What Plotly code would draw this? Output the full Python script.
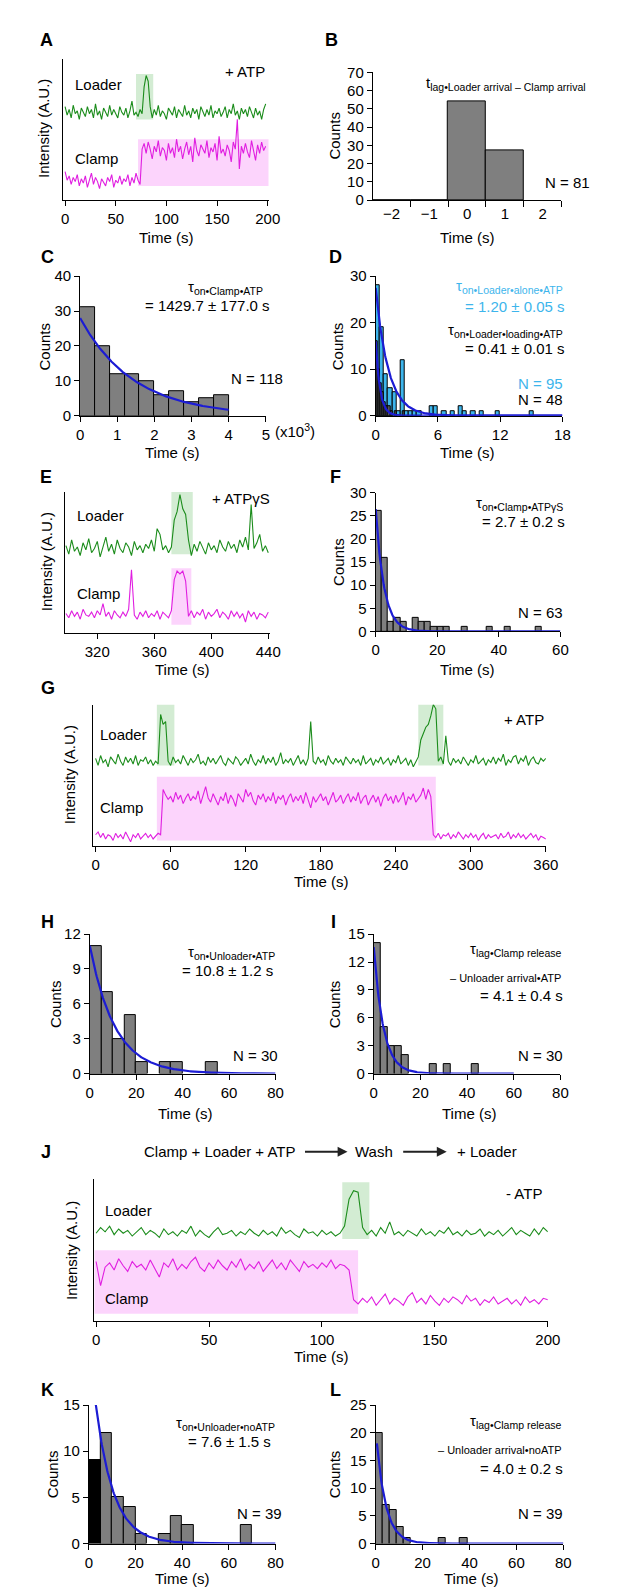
import math
import plotly.graph_objects as go

W, H = 617, 1593
FONT = "Liberation Sans, Arial, Helvetica, sans-serif"
GREEN = "#1b8c1b"
MAGENTA = "#e01ee0"
GREEN_BOX = "rgba(70,175,70,0.24)"
PINK_BOX = "rgba(245,120,245,0.32)"
GRAY = "#7f7f7f"
DARK = "#555555"
BLUE_FIT = "#1c1cd4"
LIGHT_BLUE = "#3db5ec"

# ---------------- Panel A (traces, +ATP) ----------------
A_time = list(range(0, 200, 2))
A_loader = [66, 60, 64, 58, 67, 61, 63, 57, 65, 62,
            59, 66, 61, 64, 58, 68, 60, 63, 57, 65,
            62, 59, 67, 60, 64, 61, 58, 66, 62, 60,
            65, 58, 63, 70, 60, 62, 59, 64, 61, 80,
            88, 84, 66, 58, 64, 60, 67, 59, 63, 61,
            57, 65, 62, 60, 66, 58, 64, 61, 59, 67,
            60, 63, 58, 65, 61, 64, 57, 66, 62, 59,
            64, 60, 67, 58, 63, 61, 65, 59, 62, 66,
            58, 64, 61, 68, 60, 63, 57, 65, 61, 64,
            59, 66, 62, 58, 65, 60, 63, 57, 64, 68]
A_clamp = [20, 14, 17, 11, 16, 13, 18, 10, 15, 12,
           17, 9, 14, 19, 11, 16, 13, 8, 15, 12,
           10, 16, 13, 18, 9, 14, 12, 17, 11, 15,
           13, 18, 10, 16, 12, 19, 14, 11, 36, 40,
           33, 41, 36, 29, 38, 34, 42, 31, 37, 35,
           28, 40, 33, 37, 30, 43, 34, 38, 29, 36,
           41, 32, 38, 27, 44, 35, 31, 39, 36, 33,
           42, 30, 37, 34, 40, 28, 45, 33, 36, 31,
           39, 35, 27, 41, 36, 57, 22, 38, 33, 40,
           34, 30, 42, 36, 28, 39, 33, 41, 35, 38]
A_green_box = [70, 87, 57, 89]
A_pink_box = [72, 201, 10, 43]

# ---------------- Panel B (histogram) ----------------
B_left = [-2.5, -1.5, -0.5, 0.5]
B_counts = [0, 0, 54, 27]
B_width = 1.0

# ---------------- Panel C ----------------
C_left = [0.0, 0.4, 0.8, 1.2, 1.6, 2.0, 2.4, 2.8, 3.2, 3.6]
C_counts = [31, 20, 12, 12, 10, 6, 7, 4, 5, 6]
C_width = 0.4
C_fit = [28.0, 1.4297, 0.0, 4.0]   # amplitude, tau (x10^3 s), t start, t end

# ---------------- Panel D ----------------
D_blue_left = [0.0, 0.4, 0.8, 1.2, 1.6, 2.0, 2.4, 2.8, 3.2, 3.6, 4.0, 5.2, 5.6,
               6.4, 7.2, 8.0, 8.4, 9.2, 10.0, 11.6, 14.8]
D_blue_counts = [28, 19, 9, 6, 5, 1, 12, 1, 1, 1, 1, 2, 2, 1, 1, 2, 1, 1, 1, 1, 1]
D_blue_width = 0.4
D_black_left = [0.0, 0.2, 0.4, 0.6, 0.8, 1.0, 1.2, 1.4, 1.8, 2.6]
D_black_counts = [16, 10, 7, 5, 3, 2, 2, 1, 1, 1]
D_black_width = 0.2
D_fit_alone = [27.5, 1.20, 0.0, 18.0]
D_fit_loading = [16.0, 0.41, 0.0, 18.0]

# ---------------- Panel E (traces, +ATPgS) ----------------
E_time = list(range(298, 441, 2))
E_loader = [62, 56, 66, 58, 61, 55, 64, 59, 67, 57,
            60, 65, 54, 62, 68, 58, 63, 56, 66, 60,
            57, 64, 61, 55, 65, 59, 62, 57, 63, 60,
            66, 58, 74, 70, 59, 62, 57, 61, 80, 86,
            98, 88, 84, 66, 55, 63, 58, 65, 60, 56,
            64, 59, 62, 57, 66, 61, 58, 65, 60, 63,
            57, 66, 61, 68, 59, 91, 60, 64, 70, 58,
            62, 57]
E_clamp = [14, 11, 16, 12, 15, 10, 17, 13, 12, 15,
           11, 16, 13, 21, 12, 15, 10, 16, 13, 11,
           15, 12, 17, 45, 13, 10, 15, 12, 16, 11,
           14, 12, 16, 10, 15, 13, 11, 16, 38, 44,
           42, 44, 37, 12, 16, 11, 15, 13, 17, 10,
           15, 12, 14, 17, 11, 15, 13, 10, 16, 12,
           15, 11, 14, 8, 16, 12, 15, 10, 14, 13,
           11, 15]
E_green_box = [372, 387, 56, 100]
E_pink_box = [372, 386, 6, 46]

# ---------------- Panel F ----------------
F_left = [0, 2, 4, 6, 8, 12, 14, 16, 18, 20, 22, 28, 36, 42, 52]
F_counts = [26, 16, 2, 3, 2, 3, 2, 2, 1, 1, 1, 1, 1, 1, 1]
F_width = 2
F_fit = [26.5, 2.7, 0.0, 60.0]

# ---------------- Panel G (traces, +ATP) ----------------
G_time = list(range(0, 361, 2))
G_loader = [62, 57, 64, 59, 61, 56, 63, 60, 58, 65,
            60, 57, 63, 59, 62, 58, 64, 57, 61, 60,
            63, 58, 61, 57, 60, 58, 93, 86, 88, 60,
            57, 63, 59, 61, 58, 64, 60, 57, 62, 59,
            61, 65, 58, 60, 57, 63, 59, 62, 58, 61,
            64, 59, 57, 62, 60, 58, 63, 61, 57, 60,
            62, 58, 65, 60, 57, 61, 59, 64, 58, 62,
            59, 63, 57, 60, 66, 58, 61, 59, 62, 57,
            60, 64, 58, 61, 57, 62, 88, 60, 58, 63,
            59, 61, 57, 64, 60, 58, 62, 59, 61, 57,
            63, 60, 58, 62, 59, 61, 57, 64, 58, 60,
            62, 57, 61, 59, 63, 58, 60, 62, 57, 61,
            59, 64, 58, 60, 62, 57, 61, 56, 59, 63,
            75, 80, 84, 86, 92, 100, 97, 60, 63, 58,
            78, 60, 57, 62, 59, 61, 58, 63, 60, 57,
            61, 59, 64, 58, 60, 62, 57, 61, 59, 63,
            58, 62, 60, 65, 57, 61, 59, 63, 64, 58,
            62, 60, 64, 57, 61, 63, 59, 58, 62, 60,
            62]
G_clamp = [8, 10, 6, 9, 5, 8, 7, 4, 9, 6,
           8, 5, 10, 7, 3, 8, 6, 9, 5, 7,
           9, 6, 8, 5, 7, 9, 8, 40, 36, 33,
           35, 31, 38, 33, 36, 30, 34, 37, 32, 35,
           33, 39, 30, 36, 42, 34, 31, 37, 33, 29,
           35, 32, 38, 30, 36, 33, 28, 37, 34, 31,
           40, 35, 38, 32, 29, 36, 33, 37, 31, 35,
           32, 38, 30, 35, 33, 36, 29, 34, 37, 31,
           35, 32, 36, 30, 38, 33, 27, 35, 31, 34,
           37, 32, 35, 29, 34, 38, 31, 33, 36, 30,
           34, 37, 31, 35, 32, 38, 30, 34, 36, 29,
           33, 36, 31, 35, 28, 34, 37, 32, 35, 30,
           36, 31, 34, 38, 29, 35, 33, 37, 31, 34,
           36, 41, 33, 40, 35, 8, 6, 9, 5, 8,
           7, 9, 5, 8, 6, 10, 7, 5, 8, 6,
           9, 6, 8, 4, 7, 9, 5, 8, 6, 7,
           8, 5, 9, 6, 7, 10, 5, 8, 6, 9,
           6, 8, 5, 7, 9, 6, 8, 4, 7, 6,
           5]
G_green_boxes = [[49, 63, 57, 100], [258, 278, 57, 100]]
G_pink_box = [49, 272, 4, 49]

# ---------------- Panel H ----------------
H_left = [0, 5, 10, 15, 20, 30, 35, 50]
H_counts = [11, 7, 3, 5, 1, 1, 1, 1]
H_width = 5
H_fit = [11.0, 10.8, 0.0, 80.0]

# ---------------- Panel I ----------------
I_left = [0, 3, 6, 9, 12, 24, 30, 42]
I_counts = [14, 5, 3, 3, 2, 1, 1, 1]
I_width = 3
I_fit = [13.6, 4.1, 0.0, 60.0]

# ---------------- Panel J (traces, -ATP) ----------------
J_time = list(range(0, 201, 2))
J_loader = [62, 66, 63, 67, 61, 65, 62, 64, 60, 63,
            66, 61, 64, 62, 59, 65, 61, 63, 60, 64,
            62, 67, 60, 64, 61, 59, 63, 66, 61, 62,
            64, 60, 63, 61, 65, 62, 60, 64, 61, 63,
            60, 66, 62, 64, 61, 59, 65, 62, 63, 60,
            64, 61, 63, 60, 62, 67, 86, 92, 91, 66,
            61, 64, 60, 66, 62, 70, 61, 63, 60, 64,
            62, 60, 65, 61, 63, 60, 64, 62, 66, 61,
            63, 60, 64, 61, 62, 65, 60, 63, 61, 64,
            60, 63, 66, 61, 64, 62, 60, 65, 61, 66,
            63]
J_clamp = [42, 25, 38, 41, 36, 44, 39, 35, 42, 38,
           40, 36, 43, 37, 31, 41, 38, 44, 36, 40,
           37, 42, 45, 38, 35, 41, 37, 43, 39, 36,
           42, 38, 44, 36, 40, 37, 42, 35, 39, 43,
           37, 41, 36, 43, 39, 35, 42, 38, 40, 37,
           41, 38, 43, 37, 40, 39, 36, 15, 12, 16,
           13, 17, 11, 15, 19, 12, 16, 14, 11, 17,
           20, 13, 16, 12, 18, 14, 11, 16, 13, 17,
           15, 12, 18, 14, 16, 11, 15, 13, 17, 12,
           14, 16, 12, 15, 11, 17, 13, 15, 12, 16,
           15]
J_green_box = [109, 121, 58, 98]
J_pink_box = [-0.8, 116, 5, 50]

# ---------------- Panel K ----------------
K_left = [0, 5, 10, 15, 20, 30, 35, 40, 65]
K_counts = [9, 12, 5, 4, 1, 1, 3, 2, 2]
K_width = 5
K_fit = [22.3, 7.6, 3.0, 80.0]

# ---------------- Panel L ----------------
L_left = [0, 3, 6, 9, 12, 27, 36]
L_counts = [20, 7, 6, 3, 1, 1, 1]
L_width = 3
L_fit = [20.5, 4.0, 0.5, 80.0]

# =====================================================
fig = go.Figure()
layout = dict(width=W, height=H, margin=dict(l=0, r=0, t=0, b=0),
              paper_bgcolor="white", plot_bgcolor="white", showlegend=False,
              barmode="overlay", bargap=0,
              font=dict(family=FONT, size=15, color="black"))
annotations = []
shapes = []


def X(px):
    return px / W


def Y(py):
    return 1 - py / H


TICKFONT = dict(family=FONT, size=15, color="black")
LETTER = 18


def make_axes(n, xl, xr, yt, yb, xrange, yrange, xtickvals, ytickvals=None,
              trace_panel=False):
    common = dict(showline=True, linecolor="black", linewidth=1, showgrid=False,
                  zeroline=False, tickfont=TICKFONT, ticks="outside", ticklen=5,
                  tickcolor="black", tickwidth=1, fixedrange=True)
    xa = dict(common, domain=[X(xl), X(xr)], anchor=f"y{n}", range=xrange,
              tickmode="array", tickvals=xtickvals)
    ya = dict(common, domain=[Y(yb), Y(yt)], anchor=f"x{n}", range=yrange)
    if trace_panel:
        ya.update(ticks="", showticklabels=False)
    else:
        ya.update(tickmode="array", tickvals=ytickvals)
    key = "" if n == 1 else str(n)
    layout["xaxis" + key] = xa
    layout["yaxis" + key] = ya
    return "x" + key, "y" + key


def ann(text, px, py, size=15, xanchor="center", color="black", angle=0):
    annotations.append(dict(text=text, x=X(px), y=Y(py), xref="paper", yref="paper",
                            xanchor=xanchor, yanchor="middle", showarrow=False,
                            textangle=angle,
                            font=dict(family=FONT, size=size, color=color)))


def box(xr, yr, b, color):
    shapes.append(dict(type="rect", xref=xr, yref=yr, x0=b[0], x1=b[1], y0=b[2], y1=b[3],
                       fillcolor=color, line=dict(width=0), layer="below"))


def add_trace_line(xr, yr, t, v, color):
    fig.add_trace(go.Scatter(x=t, y=v, mode="lines", line=dict(color=color, width=1.1),
                             xaxis=xr, yaxis=yr, hoverinfo="skip"))


def add_bars(xr, yr, left, counts, width, color=GRAY):
    fig.add_trace(go.Bar(x=left, y=counts, width=width, offset=0, xaxis=xr, yaxis=yr,
                         marker=dict(color=color, line=dict(color="black", width=1)),
                         hoverinfo="skip"))


def add_fit(xr, yr, p, color=BLUE_FIT):
    amp, tau, t0, t1 = p
    n = 300
    ts = [t0 + (t1 - t0) * i / (n - 1) for i in range(n)]
    ys = [amp * math.exp(-t / tau) for t in ts]
    fig.add_trace(go.Scatter(x=ts, y=ys, mode="lines", line=dict(color=color, width=2.2),
                             xaxis=xr, yaxis=yr, hoverinfo="skip"))


# ---- A ----
xa, ya = make_axes(1, 52, 264, 42, 185, [-2.5, 201], [0, 100], [0, 50, 100, 150, 200],
                   trace_panel=True)
box(xa, ya, A_green_box, GREEN_BOX)
box(xa, ya, A_pink_box, PINK_BOX)
add_trace_line(xa, ya, A_time, A_loader, GREEN)
add_trace_line(xa, ya, A_time, A_clamp, MAGENTA)
ann("<b>A</b>", 35, 23, LETTER)
ann("+ ATP", 240, 55)
ann("Loader", 63, 68, xanchor="left")
ann("Clamp", 63, 143, xanchor="left")
ann("Intensity (A.U.)", 33, 113, angle=-90)
ann("Time (s)", 158, 223)

# ---- B ----
xb, yb = make_axes(2, 371, 565, 56, 185, [-2.5, 2.5], [0, 70], [-2, -1, 0, 1, 2],
                   ytickvals=[0, 10, 20, 30, 40, 50, 60, 70])
layout["xaxis2"].update(ticklen=0, ticks="",
                        minor=dict(tickvals=[-1.5, -0.5, 0.5, 1.5, 2.5], ticks="outside",
                                   ticklen=6, tickcolor="black", tickwidth=1))
add_bars(xb, yb, B_left, B_counts, B_width)
ann("<b>B</b>", 329, 23, LETTER)
ann("t<sub>lag•Loader arrival – Clamp arrival</sub>", 508, 67)
ann("N = 81", 571, 167)
ann("Counts", 332, 120, angle=-90)
ann("Time (s)", 468, 223)

# ---- C ----
xc, yc = make_axes(3, 70, 261, 262, 403, [0, 5], [0, 40], [0, 1, 2, 3, 4, 5],
                   ytickvals=[0, 10, 20, 30, 40])
add_bars(xc, yc, C_left, C_counts, C_width)
add_fit(xc, yc, C_fit)
ann("<b>C</b>", 36, 243, LETTER)
ann("τ<sub>on•Clamp•ATP</sub>", 220, 273)
ann("= 1429.7 ± 177.0 s", 201, 292)
ann("N = 118", 252, 365)
ann("(x10<sup>3</sup>)", 268, 418, xanchor="left")
ann("Counts", 33, 333, angle=-90)
ann("Time (s)", 165, 440)

# ---- D ----
xd, yd = make_axes(4, 374, 566, 262, 403, [0, 18], [0, 30], [0, 6, 12, 18],
                   ytickvals=[0, 10, 20, 30])
add_bars(xd, yd, D_blue_left, D_blue_counts, D_blue_width, LIGHT_BLUE)
add_bars(xd, yd, D_black_left, D_black_counts, D_black_width, DARK)
add_fit(xd, yd, D_fit_alone)
add_fit(xd, yd, D_fit_loading)
ann("<b>D</b>", 333, 243, LETTER)
ann("τ<sub>on•Loader•alone•ATP</sub>", 569, 272, xanchor="right", color=LIGHT_BLUE)
ann("= 1.20 ± 0.05 s", 571, 293, xanchor="right", color=LIGHT_BLUE)
ann("τ<sub>on•Loader•loading•ATP</sub>", 569, 317, xanchor="right")
ann("= 0.41 ± 0.01 s", 571, 335, xanchor="right")
ann("N = 95", 569, 370, xanchor="right", color=LIGHT_BLUE)
ann("N = 48", 569, 387, xanchor="right")
ann("Counts", 335, 333, angle=-90)
ann("Time (s)", 468, 440)

# ---- E ----
xe, ye = make_axes(5, 54, 265, 480, 623, [297, 441], [0, 100], [320, 360, 400, 440],
                   trace_panel=True)
box(xe, ye, E_green_box, GREEN_BOX)
box(xe, ye, E_pink_box, PINK_BOX)
add_trace_line(xe, ye, E_time, E_loader, GREEN)
add_trace_line(xe, ye, E_time, E_clamp, MAGENTA)
ann("<b>E</b>", 35, 465, LETTER)
ann("+ ATPγS", 236, 487)
ann("Loader", 65, 504, xanchor="left")
ann("Clamp", 65, 583, xanchor="left")
ann("Intensity (A.U.)", 35, 551, angle=-90)
ann("Time (s)", 175, 660)

# ---- F ----
xf, yf = make_axes(6, 374, 564, 481, 621, [0, 60], [0, 30], [0, 20, 40, 60],
                   ytickvals=[0, 5, 10, 15, 20, 25, 30])
add_bars(xf, yf, F_left, F_counts, F_width)
add_fit(xf, yf, F_fit)
ann("<b>F</b>", 333, 465, LETTER)
ann("τ<sub>on•Clamp•ATPγS</sub>", 569, 492, xanchor="right")
ann("= 2.7 ± 0.2 s", 571, 510, xanchor="right")
ann("N = 63", 569, 602, xanchor="right")
ann("Counts", 335, 551, angle=-90)
ann("Time (s)", 468, 660)

# ---- G ----
xg, yg = make_axes(7, 83.5, 549, 695, 838, [-1.9, 360], [0, 100],
                   [0, 60, 120, 180, 240, 300, 360], trace_panel=True)
for gb in G_green_boxes:
    box(xg, yg, gb, GREEN_BOX)
box(xg, yg, G_pink_box, PINK_BOX)
add_trace_line(xg, yg, G_time, G_loader, GREEN)
add_trace_line(xg, yg, G_time, G_clamp, MAGENTA)
ann("<b>G</b>", 37, 678, LETTER)
ann("+ ATP", 527, 710)
ann("Loader", 88, 725, xanchor="left")
ann("Clamp", 88, 799, xanchor="left")
ann("Intensity (A.U.)", 59, 766, angle=-90)
ann("Time (s)", 318, 874)

# ---- H ----
xh, yh = make_axes(8, 80, 271, 927, 1068, [0, 80], [0, 12], [0, 20, 40, 60, 80],
                   ytickvals=[0, 3, 6, 9, 12])
add_bars(xh, yh, H_left, H_counts, H_width)
add_fit(xh, yh, H_fit)
ann("<b>H</b>", 37, 915, LETTER)
ann("τ<sub>on•Unloader•ATP</sub>", 226, 946)
ann("= 10.8 ± 1.2 s", 222, 964)
ann("N = 30", 250, 1050)
ann("Counts", 45, 998, angle=-90)
ann("Time (s)", 178, 1108)

# ---- I ----
xi, yi = make_axes(9, 372, 564, 927, 1068, [0, 80], [0, 15], [0, 20, 40, 60, 80],
                   ytickvals=[0, 3, 6, 9, 12, 15])
add_bars(xi, yi, I_left, I_counts, I_width)
add_fit(xi, yi, I_fit)
ann("<b>I</b>", 331, 915, LETTER)
ann("τ<sub>lag•Clamp release</sub>", 567, 943, xanchor="right")
ann("– Unloader arrival•ATP", 567, 971, 11, xanchor="right")
ann("= 4.1 ± 0.4 s", 569, 989, xanchor="right")
ann("N = 30", 569, 1050, xanchor="right")
ann("Counts", 331, 998, angle=-90)
ann("Time (s)", 470, 1108)

# ---- J ----
xj, yj = make_axes(10, 84.6, 551, 1175, 1318, [-0.8, 200], [0, 100],
                   [0, 50, 100, 150, 200], trace_panel=True)
box(xj, yj, J_green_box, GREEN_BOX)
box(xj, yj, J_pink_box, PINK_BOX)
add_trace_line(xj, yj, J_time, J_loader, GREEN)
add_trace_line(xj, yj, J_time, J_clamp, MAGENTA)
ann("<b>J</b>", 35, 1147, LETTER)
ann("Clamp + Loader + ATP", 213, 1147)
ann("Wash", 372, 1147)
ann("+ Loader", 488, 1147)
for (a0, a1) in [(301, 345), (402, 447)]:
    annotations.append(dict(x=X(a1), y=Y(1147), ax=-(a1 - a0), ay=0, xref="paper",
                            yref="paper", axref="pixel", ayref="pixel", text="",
                            showarrow=True, arrowhead=2, arrowsize=0.9, arrowwidth=2.2,
                            arrowcolor="#222222"))
ann("- ATP", 526, 1189)
ann("Loader", 94, 1206, xanchor="left")
ann("Clamp", 94, 1295, xanchor="left")
ann("Intensity (A.U.)", 61, 1247, angle=-90)
ann("Time (s)", 318, 1354)

# ---- K ----
xk, yk = make_axes(11, 79, 271, 1403, 1543, [0, 80], [0, 15], [0, 20, 40, 60, 80],
                   ytickvals=[0, 5, 10, 15])
add_bars(xk, yk, K_left[1:], K_counts[1:], K_width)
add_bars(xk, yk, K_left[:1], K_counts[:1], K_width, "black")
add_fit(xk, yk, K_fit)
ann("<b>K</b>", 37, 1388, LETTER)
ann("τ<sub>on•Unloader•noATP</sub>", 220, 1422)
ann("= 7.6 ± 1.5 s", 224, 1440)
ann("N = 39", 254, 1513)
ann("Counts", 41, 1473, angle=-90)
ann("Time (s)", 175, 1578)

# ---- L ----
xl, yl = make_axes(12, 374, 567, 1403, 1543, [0, 80], [0, 25], [0, 20, 40, 60, 80],
                   ytickvals=[0, 5, 10, 15, 20, 25])
add_bars(xl, yl, L_left, L_counts, L_width)
add_fit(xl, yl, L_fit)
ann("<b>L</b>", 333, 1388, LETTER)
ann("τ<sub>lag•Clamp release</sub>", 567, 1420, xanchor="right")
ann("– Unloader arrival•noATP", 567, 1448, 11, xanchor="right")
ann("= 4.0 ± 0.2 s", 569, 1467, xanchor="right")
ann("N = 39", 569, 1513, xanchor="right")
ann("Counts", 331, 1473, angle=-90)
ann("Time (s)", 472, 1578)

layout["annotations"] = annotations
layout["shapes"] = shapes
fig.update_layout(**layout)
fig.write_html("out.html")
